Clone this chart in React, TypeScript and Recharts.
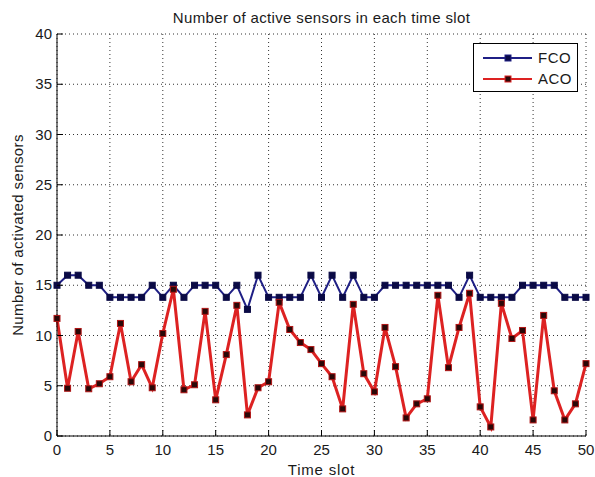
import {
  CartesianGrid,
  Label,
  Legend,
  Line,
  LineChart,
  XAxis,
  YAxis,
} from "recharts";

const slots = Array.from({ length: 51 }, (_, i) => i);

const fco = [
  15, 16, 16, 15, 15, 13.8, 13.8, 13.8, 13.8, 15,
  13.8, 15, 13.8, 15, 15, 15, 13.8, 15, 12.6, 16,
  13.8, 13.8, 13.8, 13.8, 16, 13.8, 16, 13.8, 16, 13.8,
  13.8, 15, 15, 15, 15, 15, 15, 15, 13.8, 16,
  13.8, 13.8, 13.8, 13.8, 15, 15, 15, 15, 13.8, 13.8,
  13.8,
];

const aco = [
  11.7, 4.75, 10.4, 4.7, 5.2, 5.9, 11.2, 5.4, 7.1, 4.8,
  10.2, 14.6, 4.6, 5.1, 12.4, 3.6, 8.1, 13.0, 2.1, 4.8,
  5.4, 13.3, 10.6, 9.3, 8.6, 7.2, 5.9, 2.7, 13.1, 6.2,
  4.4, 10.8, 6.9, 1.8, 3.2, 3.7, 14.0, 6.8, 10.8, 14.2,
  2.9, 0.9, 13.2, 9.7, 10.5, 1.6, 12.0, 4.5, 1.6, 3.2,
  7.2,
];

const xTicks = [0, 5, 10, 15, 20, 25, 30, 35, 40, 45, 50];
const yTicks = [0, 5, 10, 15, 20, 25, 30, 35, 40];

const title = "Number of active sensors in each time slot";

const data = slots.map((t, i) => ({ t, fco: fco[i], aco: aco[i] }));

const FONT = "'Liberation Sans', Arial, sans-serif";
const TXT = "#1a1a1a";
const TICK = 6;

const FCO_LINE = "#1f1f85";
const FCO_MARK = "#0a0a45";
const ACO_LINE = "#dd2222";
const ACO_MARK = "#2a0808";

// MATLAB-style inward ticks, drawn by hand since recharts only draws outward
function BottomTick({ x, y, payload }: any) {
  return (
    <g>
      <line x1={x} y1={y - 4} x2={x} y2={y - 4 - TICK} stroke="#000" />
      <text x={x} y={y + 15} textAnchor="middle" fontSize={15} fontFamily={FONT} fill={TXT}>
        {payload.value}
      </text>
    </g>
  );
}

function LeftTick({ x, y, payload }: any) {
  return (
    <g>
      <line x1={x + 5} y1={y} x2={x + 5 + TICK} y2={y} stroke="#000" />
      <text x={x} y={y + 5} textAnchor="end" fontSize={15} fontFamily={FONT} fill={TXT}>
        {payload.value}
      </text>
    </g>
  );
}

function TopTick({ x, y }: any) {
  return <line x1={x} y1={y} x2={x} y2={y + TICK} stroke="#000" />;
}

function RightTick({ x, y }: any) {
  return <line x1={x} y1={y} x2={x - TICK} y2={y} stroke="#000" />;
}

function squareDot(fill: string, edge: string) {
  return (p: any) => (
    <rect
      key={`d${p.index}`}
      x={p.cx - 3}
      y={p.cy - 3}
      width={6}
      height={6}
      fill={fill}
      stroke={edge}
      strokeWidth={1}
    />
  );
}

function LegendBox() {
  const rows = [
    { name: "FCO", line: FCO_LINE, mark: FCO_MARK },
    { name: "ACO", line: ACO_LINE, mark: ACO_MARK },
  ];
  return (
    <div
      style={{
        width: 105,
        height: 49,
        boxSizing: "border-box",
        border: "1px solid #000",
        background: "#fff",
        fontFamily: FONT,
        fontSize: 15,
        color: TXT,
        paddingTop: 3,
      }}
    >
      {rows.map((r) => (
        <div key={r.name} style={{ display: "flex", alignItems: "center", height: 21 }}>
          <svg width={64} height={10}>
            <line x1={9} y1={5} x2={58} y2={5} stroke={r.line} strokeWidth={2} />
            <rect x={31} y={2} width={6} height={6} fill={r.mark} stroke={r.line} />
          </svg>
          <span style={{ letterSpacing: 0.5 }}>{r.name}</span>
        </div>
      ))}
    </div>
  );
}

export default function App() {
  return (
    <div style={{ position: "absolute", left: 0, top: 0, width: 595, height: 477, background: "#fff" }}>
      <div
        style={{
          position: "absolute",
          left: 57,
          width: 529,
          top: 10,
          lineHeight: "15px",
          textAlign: "center",
          fontFamily: FONT,
          fontSize: 15,
          letterSpacing: 0.35,
          color: TXT,
          zIndex: 1,
        }}
      >
        {title}
      </div>
      <LineChart
        width={595}
        height={477}
        data={data}
        margin={{ top: 34, right: 9, bottom: 0, left: 0 }}
      >
        <CartesianGrid stroke="#333" strokeDasharray="1 3" />
        <XAxis
          dataKey="t"
          type="number"
          domain={[0, 50]}
          ticks={xTicks}
          height={41}
          tickSize={0}
          tickMargin={4}
          tickLine={false}
          axisLine={{ stroke: "#000" }}
          tick={<BottomTick />}
          interval={0}
        >
          <Label
            value="Time slot"
            position="insideBottom"
            offset={2}
            fontSize={15}
            fontFamily={FONT}
            fill={TXT}
            style={{ letterSpacing: 0.8 }}
          />
        </XAxis>
        <XAxis
          xAxisId="top"
          orientation="top"
          dataKey="t"
          type="number"
          domain={[0, 50]}
          allowDataOverflow
          ticks={xTicks}
          height={0}
          tickSize={0}
          tickLine={false}
          axisLine={{ stroke: "#000" }}
          tick={<TopTick />}
          interval={0}
        />
        <YAxis
          type="number"
          domain={[0, 40]}
          ticks={yTicks}
          width={57}
          tickSize={0}
          tickMargin={5}
          tickLine={false}
          axisLine={{ stroke: "#000" }}
          tick={<LeftTick />}
          interval={0}
        >
          <Label
            value="Number of activated sensors"
            angle={-90}
            position="insideLeft"
            offset={18}
            style={{ textAnchor: "middle", letterSpacing: 0.4 }}
            fontSize={15}
            fontFamily={FONT}
            fill={TXT}
          />
        </YAxis>
        <YAxis
          yAxisId="right"
          orientation="right"
          type="number"
          domain={[0, 40]}
          allowDataOverflow
          ticks={yTicks}
          width={0}
          tickSize={0}
          tickLine={false}
          axisLine={{ stroke: "#000" }}
          tick={<RightTick />}
          interval={0}
        />
        <Legend
          layout="horizontal"
          verticalAlign="middle"
          align="center"
          content={() => <LegendBox />}
          wrapperStyle={{ position: "absolute", left: 473, top: 43, width: 105, height: 49 }}
        />
        {/* invisible series so the frame axes (top/right) get drawn */}
        <Line
          xAxisId="top"
          yAxisId="right"
          dataKey="fco"
          stroke="none"
          dot={false}
          activeDot={false}
          legendType="none"
          isAnimationActive={false}
        />
        <Line
          type="linear"
          dataKey="fco"
          name="FCO"
          stroke={FCO_LINE}
          strokeWidth={2}
          dot={squareDot(FCO_MARK, FCO_MARK)}
          activeDot={false}
          isAnimationActive={false}
        />
        <Line
          type="linear"
          dataKey="aco"
          name="ACO"
          stroke={ACO_LINE}
          strokeWidth={3}
          dot={squareDot(ACO_MARK, "#b01515")}
          activeDot={false}
          isAnimationActive={false}
        />
      </LineChart>
    </div>
  );
}
